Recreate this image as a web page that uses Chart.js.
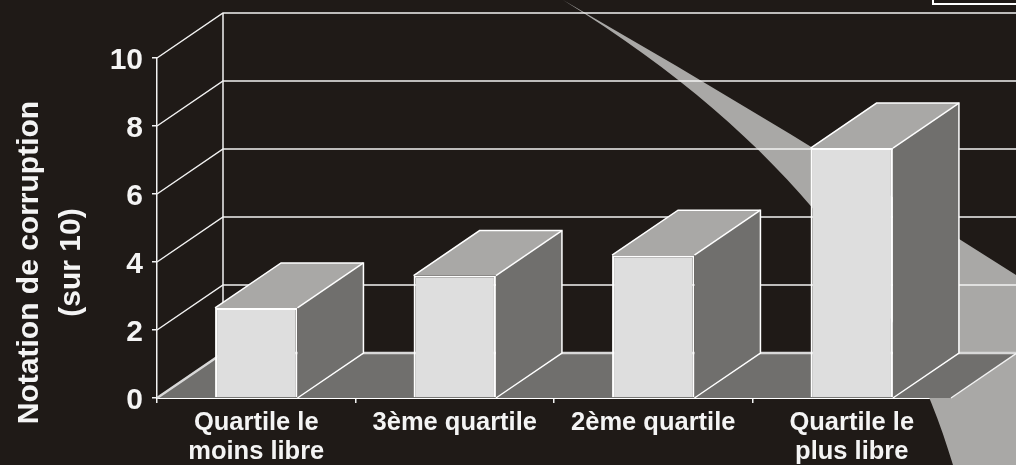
<!DOCTYPE html>
<html lang="fr">
<head>
<meta charset="utf-8">
<title>Notation de corruption</title>
<script src="https://cdn.jsdelivr.net/npm/chart.js@4"></script>
<style>
  html, body { margin: 0; padding: 0; background: #1f1a17; overflow: hidden; }
  canvas { display: block; }
</style>
</head>
<body>
<canvas id="corruption-chart" width="1016" height="465"></canvas>
<script>
//Chart data
let quartileLabels = [["Quartile le", "moins libre"], "3ème quartile", "2ème quartile", ["Quartile le", "plus libre"]];
let corruptionValues = [2.65, 3.6, 4.2, 7.35];
let axisTitle = ["Notation de corruption", "(sur 10)"];

//3D look
const depthX = 66;
const depthY = -45;
const wallRight = 1017;
const lineColor = "#f2f2f2";
const frontColor = "#dedede";
const topColor = "#a9a8a6";
const sideColor = "#706f6d";
const fontName = "'Liberation Sans', Arial, sans-serif";

const fillShape = (ctx, points, color) => {
  ctx.beginPath();
  points.forEach(([x, y], i) => (i === 0 ? ctx.moveTo(x, y) : ctx.lineTo(x, y)));
  ctx.closePath();
  ctx.fillStyle = color;
  ctx.fill();
};

const drawLine = (ctx, points, width, color) => {
  ctx.beginPath();
  points.forEach(([x, y], i) => (i === 0 ? ctx.moveTo(x, y) : ctx.lineTo(x, y)));
  ctx.lineWidth = width;
  ctx.strokeStyle = color;
  ctx.stroke();
};

//Grey slide decoration sitting behind the chart, and the cut off box top right
const drawBackdrop = (ctx) => {
  ctx.beginPath();
  ctx.moveTo(563, 0);
  ctx.quadraticCurveTo(790, 130, 1016, 275);
  ctx.lineTo(1016, 465);
  ctx.lineTo(953, 465);
  ctx.bezierCurveTo(905, 300, 790, 140, 563, 0);
  ctx.closePath();
  ctx.fillStyle = topColor;
  ctx.fill();
  ctx.lineWidth = 2;
  ctx.strokeStyle = "#ffffff";
  ctx.strokeRect(933, -6, 100, 10);
};

//Axis title sits lower than the middle of the axis, so it is placed by hand
const drawAxisTitle = (ctx) => {
  ctx.font = `bold 30px ${fontName}`;
  ctx.fillStyle = "#f4f4f4";
  ctx.textAlign = "center";
  ctx.textBaseline = "alphabetic";
  [38, 80].forEach((baseline, i) => {
    ctx.save();
    ctx.translate(baseline, 262.5);
    ctx.rotate(-Math.PI / 2);
    ctx.fillText(axisTitle[i], 0, 0);
    ctx.restore();
  });
};

const wallPlugin = {
  id: "wallPlugin",
  beforeDatasetsDraw: (chart) => {
    const {ctx, scales: {y}, chartArea} = chart;
    let left = chartArea.left;
    let right = chartArea.right;
    let base = y.getPixelForValue(0);
    ctx.save();
    drawBackdrop(ctx);
    drawAxisTitle(ctx);

    //floor
    fillShape(ctx, [[left, base], [left + depthX, base + depthY], [wallRight, base + depthY], [right, base]], sideColor);

    //wall grid lines
    y.ticks.forEach((tick) => {
      let py = y.getPixelForValue(tick.value);
      drawLine(ctx, [[left, py], [left + depthX, py + depthY], [wallRight, py + depthY]], tick.value === 0 ? 2.5 : 1.5, tick.value === 0 ? "#d8d8d8" : lineColor);
    });
    drawLine(ctx, [[left + depthX, y.getPixelForValue(10) + depthY], [left + depthX, base + depthY]], 1.5, lineColor);
    drawLine(ctx, [[right, base], [right + depthX, base + depthY]], 1.5, lineColor);

    //top and side of each bar, the front comes from the bar itself
    chart.getDatasetMeta(0).data.forEach((bar) => {
      let x0 = bar.x - bar.width / 2;
      let x1 = bar.x + bar.width / 2;
      fillShape(ctx, [[x0, bar.y], [x0 + depthX, bar.y + depthY], [x1 + depthX, bar.y + depthY], [x1, bar.y]], topColor);
      fillShape(ctx, [[x1, bar.y], [x1 + depthX, bar.y + depthY], [x1 + depthX, base + depthY], [x1, base]], sideColor);
      drawLine(ctx, [[x0, bar.y], [x0 + depthX, bar.y + depthY], [x1 + depthX, bar.y + depthY], [x1 + depthX, base + depthY], [x1, base]], 1.5, "#ffffff");
      drawLine(ctx, [[x1, bar.y], [x1 + depthX, bar.y + depthY]], 1.5, "#ffffff");
    });
    ctx.restore();
  },
};

new Chart(document.getElementById("corruption-chart"), {
  type: "bar",
  data: {
    labels: quartileLabels,
    datasets: [
      {
        data: corruptionValues,
        backgroundColor: frontColor,
        borderColor: "#ffffff",
        borderWidth: 2,
        barPercentage: 0.415,
        categoryPercentage: 1,
      },
    ],
  },
  plugins: [wallPlugin],
  options: {
    responsive: false,
    animation: false,
    layout: {padding: {top: 58, right: 65}},
    plugins: {
      legend: {display: false},
      tooltip: {enabled: false},
    },
    scales: {
      y: {
        min: 0,
        max: 10,
        afterFit: (scale) => { scale.width = 157; },
        border: {display: true, color: lineColor, width: 1.5},
        grid: {drawOnChartArea: false, color: lineColor, tickLength: 5, lineWidth: 1.5},
        ticks: {
          stepSize: 2,
          color: "#f4f4f4",
          padding: 9,
          labelOffset: 3,
          font: {family: fontName, size: 30, weight: "bold"},
        },
      },
      x: {
        afterFit: (scale) => { scale.height = 67; },
        border: {display: true, color: "#ffffff", width: 2},
        grid: {drawOnChartArea: false, color: lineColor, tickLength: 5, lineWidth: 1.5},
        ticks: {
          color: "#f4f4f4",
          padding: 5,
          maxRotation: 0,
          autoSkip: false,
          font: {family: fontName, size: 25.5, weight: "bold", lineHeight: 1.14},
        },
      },
    },
  },
});
</script>
</body>
</html>
